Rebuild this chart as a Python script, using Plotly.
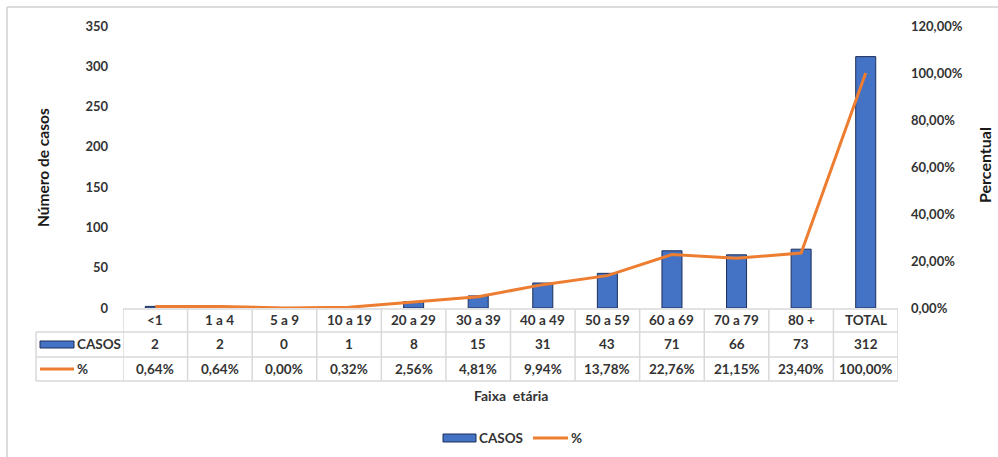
import plotly.graph_objects as go

categorias = ["<1", "1 a 4", "5 a 9", "10 a 19", "20 a 29", "30 a 39", "40 a 49",
              "50 a 59", "60 a 69", "70 a 79", "80 +", "TOTAL"]
casos = [2, 2, 0, 1, 8, 15, 31, 43, 71, 66, 73, 312]
percentual = [0.0064, 0.0064, 0.0, 0.0032, 0.0256, 0.0481, 0.0994, 0.1378,
              0.2276, 0.2115, 0.2340, 1.0]
pct_labels = ["0,64%", "0,64%", "0,00%", "0,32%", "2,56%", "4,81%", "9,94%",
              "13,78%", "22,76%", "21,15%", "23,40%", "100,00%"]

BLUE = "#4472C4"
BLUE_EDGE = "#1F2F5A"
ORANGE = "#ED7D31"
GRID = "#D9D9D9"
TXT = "#333333"
FONT = "Lato"

W, H = 998, 457
L, R, T, B = 123, 100, 26, 149
pw, ph = W - L - R, H - T - B


def px_y(p):
    return (H - B - p) / ph


def px_x(p):
    return (p - L) / pw


def ann(x, y, text, font, xref="paper", xanchor="center", **kw):
    d = dict(x=x, xref=xref, y=y, yref="paper", text=text, showarrow=False,
             xanchor=xanchor, yanchor="middle", font=font)
    d.update(kw)
    return d


fig = go.Figure()
fig.add_trace(go.Bar(x=categorias, y=casos, name="CASOS", marker_color=BLUE,
                     marker_line_color=BLUE_EDGE, marker_line_width=1, width=0.31,
                     showlegend=False))
fig.add_trace(go.Scatter(x=categorias, y=percentual, name="%", yaxis="y2", mode="lines",
                         line=dict(color=ORANGE, width=3), showlegend=False))

shapes = []
annotations = []

# table grid
row_lines = [309, 332, 357, 381]
n = len(categorias)
for i, yl in enumerate(row_lines):
    x0 = px_x(123) if i == 0 else px_x(36)
    shapes.append(dict(type="line", xref="paper", yref="paper", x0=x0, x1=1,
                       y0=px_y(yl), y1=px_y(yl), line=dict(color=GRID, width=1.5)))
shapes.append(dict(type="line", xref="paper", yref="paper", x0=px_x(36), x1=px_x(36),
                   y0=px_y(332), y1=px_y(381), line=dict(color=GRID, width=1.5)))
for k in range(n + 1):
    shapes.append(dict(type="line", xref="x", yref="paper", x0=k - 0.5, x1=k - 0.5,
                       y0=px_y(309), y1=px_y(381), line=dict(color=GRID, width=1.5)))

TF = dict(family=FONT, size=13.5, color=TXT)
row_centers = [320, 344, 369]
for i, c in enumerate(categorias):
    for r, txt in enumerate([c, str(casos[i]), pct_labels[i]]):
        annotations.append(ann(c, px_y(row_centers[r]), "<b>" + txt + "</b>", TF, xref="x"))

# table legend keys
shapes.append(dict(type="rect", xref="paper", yref="paper", x0=px_x(40), x1=px_x(74),
                   y0=px_y(348), y1=px_y(341), fillcolor=BLUE,
                   line=dict(color=BLUE_EDGE, width=1)))
annotations.append(ann(px_x(75), px_y(344), "<b>CASOS</b>", TF, xanchor="left"))
shapes.append(dict(type="line", xref="paper", yref="paper", x0=px_x(40), x1=px_x(74),
                   y0=px_y(369), y1=px_y(369), line=dict(color=ORANGE, width=3)))
annotations.append(ann(px_x(75), px_y(369), "<b>%</b>", TF, xanchor="left"))

# bottom legend
shapes.append(dict(type="rect", xref="paper", yref="paper", x0=px_x(443), x1=px_x(476),
                   y0=px_y(442), y1=px_y(434), fillcolor=BLUE,
                   line=dict(color=BLUE_EDGE, width=1)))
annotations.append(ann(px_x(477), px_y(438), "<b>CASOS</b>", TF, xanchor="left"))
shapes.append(dict(type="line", xref="paper", yref="paper", x0=px_x(533), x1=px_x(568),
                   y0=px_y(438), y1=px_y(438), line=dict(color=ORANGE, width=3)))
annotations.append(ann(px_x(569), px_y(438), "<b>%</b>", TF, xanchor="left"))

# axis titles
annotations.append(ann(px_x(511), px_y(395), "<b>Faixa  etária</b>",
                       dict(family=FONT, size=14, color=TXT)))
annotations.append(ann(px_x(43), px_y(168), "<b>Número de casos</b>",
                       dict(family=FONT, size=15.5, color="#1a1a1a"), textangle=-90))
annotations.append(ann(px_x(984), px_y(165), "<b>Percentual</b>",
                       dict(family=FONT, size=16, color="#1a1a1a"), textangle=-90))

# outer frame
shapes.append(dict(type="line", xref="paper", yref="paper", x0=px_x(7), x1=px_x(1010),
                   y0=px_y(7), y1=px_y(7), line=dict(color="#D0D0D0", width=1.5)))
shapes.append(dict(type="line", xref="paper", yref="paper", x0=px_x(7), x1=px_x(7),
                   y0=px_y(7), y1=px_y(470), line=dict(color="#D0D0D0", width=1.5)))

fig.update_layout(
    width=W, height=H,
    margin=dict(l=L, r=R, t=T, b=B),
    paper_bgcolor="white", plot_bgcolor="white",
    separators=",.",
    bargap=0.5,
    font=dict(family=FONT, color=TXT),
    xaxis=dict(type="category", categoryorder="array", categoryarray=categorias,
               showticklabels=False, showgrid=False, zeroline=False, showline=False,
               range=[-0.5, n - 0.5]),
    yaxis=dict(range=[0, 350], dtick=50, showgrid=False, zeroline=False, ticks="",
               ticklabelstandoff=14,
               tickfont=dict(family=FONT, size=13, color=TXT, weight="bold")),
    yaxis2=dict(range=[0, 1.2], dtick=0.2, tickformat=".2%", overlaying="y", side="right",
                showgrid=False, zeroline=False, ticks="", ticklabelstandoff=12,
                tickfont=dict(family=FONT, size=13, color=TXT, weight="bold")),
    shapes=shapes,
    annotations=annotations,
    showlegend=False,
)

fig.write_html("out.html", config={"displayModeBar": False},
               post_script="document.body.style.margin='0';document.body.style.overflow='hidden';")
